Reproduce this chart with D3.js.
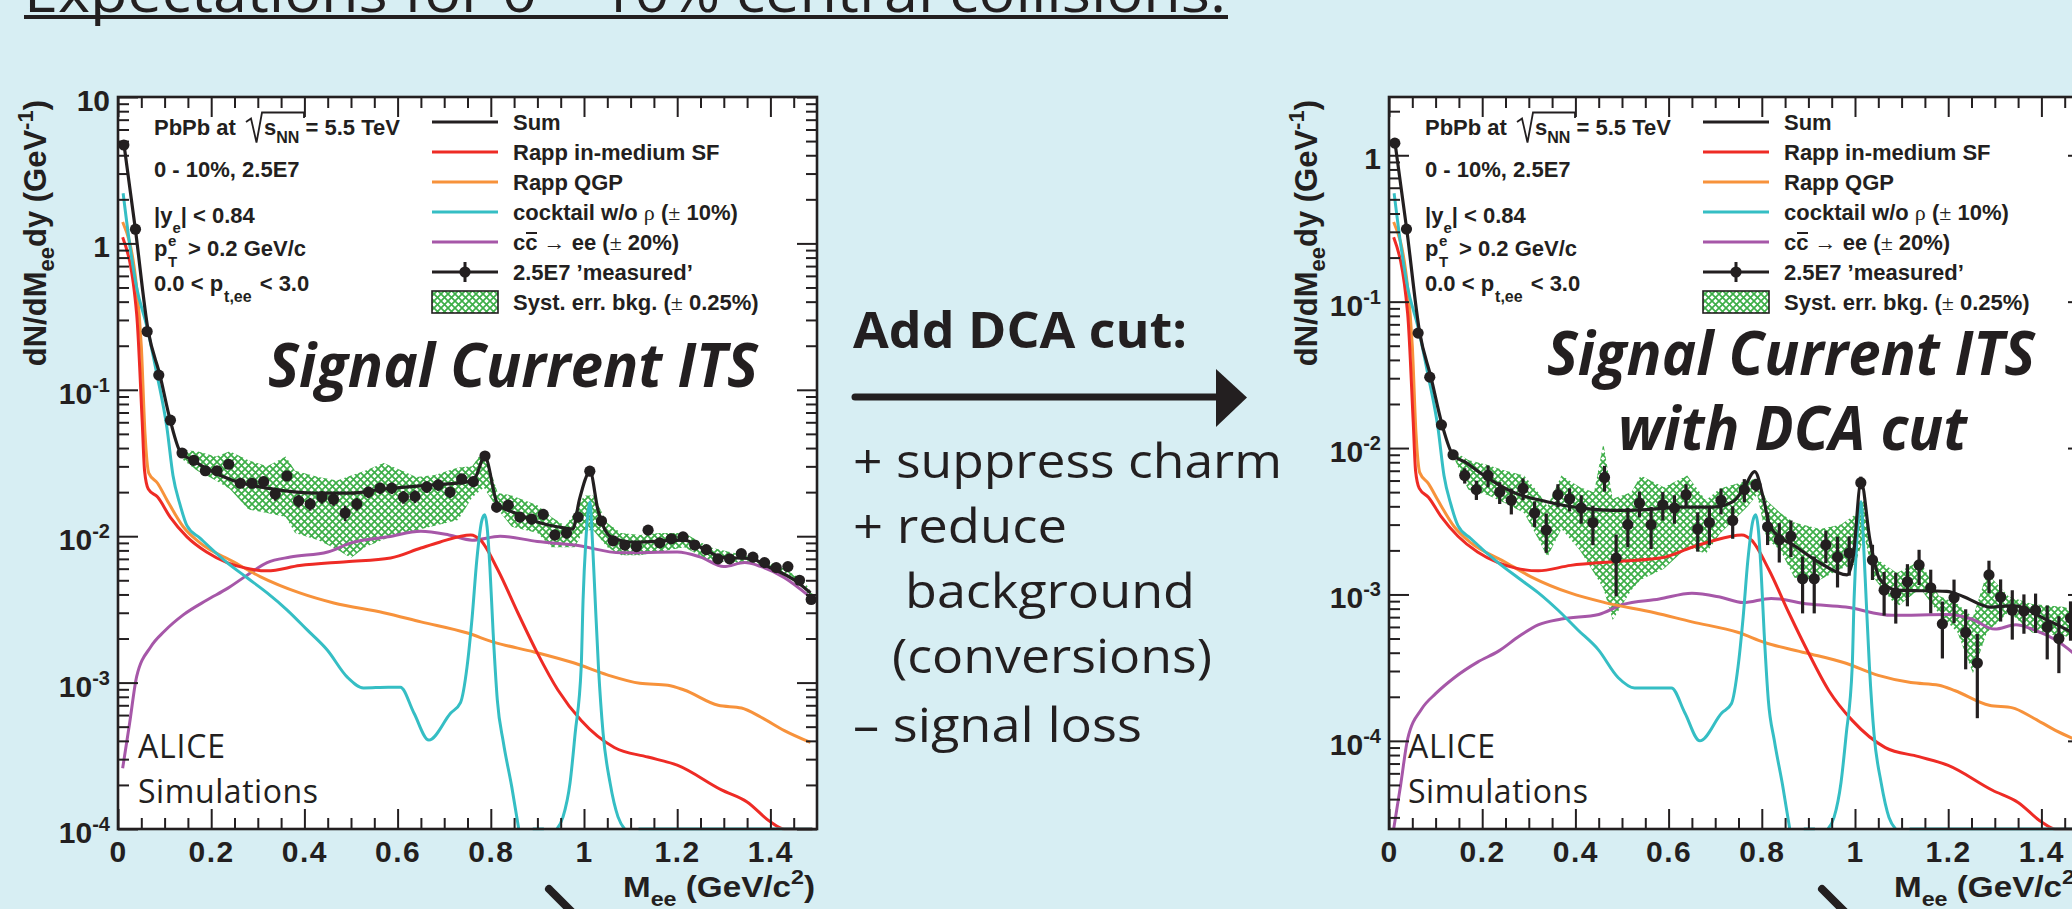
<!DOCTYPE html>
<html>
<head>
<meta charset="utf-8">
<script src="https://cdn.jsdelivr.net/npm/d3@7"></script>
<style>
  html, body { margin: 0; padding: 0; background: #d7eef3; }
  svg { display: block; }
</style>
</head>
<body>
<svg id="fig" width="2072" height="909"></svg>
<script>
// ---------- Data: dielectron invariant-mass spectra, 0-10% central PbPb ----------
// Each model curve is a list of [M_ee (GeV/c^2), dN/dM_ee dy (GeV^-1)] pairs; null = not drawn.

// Left panel: current ITS
const sumL = [[0.013,4.7],[0.037,1.27],[0.065,0.25],[0.09,0.126],[0.112,0.062],[0.135,0.037],[0.161,0.033],[0.19,0.029],[0.247,0.024],[0.32,0.0213],[0.428,0.0197],[0.499,0.0197],[0.57,0.021],[0.677,0.0224],[0.75,0.0235],[0.766,0.025],[0.787,0.035],[0.815,0.0165],[0.858,0.0142],[0.907,0.0123],[0.957,0.0114],[0.976,0.0112],[0.99,0.0177],[1.013,0.0275],[1.03,0.0151],[1.058,0.0099],[1.108,0.0091],[1.215,0.0094],[1.25,0.0084],[1.295,0.0072],[1.36,0.0070],[1.395,0.0062],[1.452,0.0050],[1.486,0.0041]];
const redL = [[0.01,1.1],[0.04,0.33],[0.052,0.06],[0.057,0.028],[0.065,0.021],[0.085,0.0185],[0.112,0.0135],[0.148,0.0099],[0.19,0.0078],[0.234,0.0066],[0.27,0.0061],[0.32,0.0058],[0.39,0.0063],[0.49,0.0067],[0.585,0.0071],[0.65,0.0083],[0.69,0.0091],[0.757,0.0102],[0.778,0.0094],[0.815,0.0059],[0.858,0.0030],[0.90,0.00159],[0.944,0.00089],[0.994,0.00055],[1.065,0.00036],[1.137,0.00031],[1.20,0.000273],[1.295,0.000185],[1.35,0.000153],[1.40,0.000112],[1.43,0.0001],[1.49,0.00008]];
const orangeL = [[0.01,1.4],[0.04,0.50],[0.05,0.2],[0.058,0.05],[0.066,0.027],[0.085,0.023],[0.105,0.0177],[0.14,0.0116],[0.176,0.0090],[0.247,0.0067],[0.305,0.0053],[0.39,0.0041],[0.463,0.0035],[0.57,0.0030],[0.65,0.0026],[0.75,0.00218],[0.806,0.00189],[0.893,0.00162],[0.979,0.00136],[1.05,0.00113],[1.12,0.00099],[1.18,0.00096],[1.215,0.00089],[1.288,0.00070],[1.338,0.00067],[1.38,0.00058],[1.43,0.00047],[1.486,0.00039]];
const cyanL = [[0.011,2.2],[0.026,0.94],[0.04,0.5],[0.062,0.27],[0.083,0.13],[0.105,0.055],[0.118,0.026],[0.133,0.0165],[0.148,0.0118],[0.176,0.0097],[0.234,0.0066],[0.277,0.0052],[0.32,0.0041],[0.363,0.00313],[0.406,0.00229],[0.449,0.00167],[0.492,0.00109],[0.527,0.00092],[0.58,0.00093],[0.606,0.00093],[0.635,0.00062],[0.667,0.000405],[0.714,0.00062],[0.735,0.00073],[0.749,0.00128],[0.76,0.0028],[0.77,0.0069],[0.781,0.0129],[0.787,0.014],[0.792,0.0116],[0.798,0.0062],[0.805,0.0022],[0.814,0.00076],[0.827,0.00039],[0.845,0.000194],[0.86,0.0001],[0.875,null],[0.89,0.00009],[0.914,0.00009],[0.93,null],[0.942,0.0001],[0.955,0.000121],[0.97,0.000206],[0.981,0.00045],[0.994,0.00128],[0.998,0.00367],[1.004,0.0094],[1.013,0.0171],[1.018,0.0094],[1.024,0.00367],[1.031,0.00128],[1.041,0.00045],[1.056,0.000206],[1.073,0.000121],[1.087,0.0001],[1.1,null],[1.117,0.00009],[1.49,0.00009]];
const purpleL = [[0.01,0.00026],[0.025,0.00053],[0.04,0.0011],[0.07,0.00175],[0.1,0.00225],[0.14,0.0029],[0.19,0.00365],[0.235,0.0044],[0.28,0.0055],[0.32,0.0066],[0.37,0.0072],[0.45,0.0078],[0.5,0.0090],[0.58,0.0099],[0.65,0.0108],[0.71,0.0102],[0.76,0.0094],[0.82,0.0100],[0.9,0.0092],[0.98,0.0087],[1.08,0.0077],[1.2,0.0078],[1.25,0.0072],[1.3,0.0062],[1.345,0.0066],[1.38,0.0062],[1.43,0.0052],[1.485,0.00385]];
// [M, lower, upper] of the background systematic band
const bandL = [[0.13,0.035,0.039],[0.17,0.028,0.038],[0.21,0.024,0.035],[0.24,0.021,0.038],[0.28,0.0152,0.033],[0.32,0.0144,0.030],[0.36,0.0135,0.035],[0.38,0.0105,0.028],[0.43,0.0094,0.0254],[0.47,0.0081,0.024],[0.5,0.0071,0.026],[0.53,0.0084,0.028],[0.57,0.0095,0.0316],[0.61,0.0105,0.028],[0.64,0.011,0.0254],[0.68,0.0118,0.0262],[0.73,0.0129,0.0295],[0.76,0.0184,0.030],[0.785,0.0215,0.039],[0.815,0.0152,0.0197],[0.845,0.0116,0.019],[0.9,0.0105,0.0163],[0.93,0.0084,0.0135],[0.96,0.0084,0.0118],[0.98,0.0084,0.0144],[1.0,0.011,0.019],[1.02,0.011,0.019],[1.05,0.0084,0.0123],[1.08,0.0074,0.0105],[1.12,0.0074,0.0102],[1.16,0.0078,0.0105],[1.215,0.0084,0.0105],[1.27,0.0068,0.0084],[1.32,0.0066,0.0077],[1.36,0.0064,0.0072],[1.4,0.006,0.0066],[1.43,0.0056,0.006],[1.47,0.0045,0.005],[1.49,0.0035,0.0041]];

// 'Measured' spectrum: bin centres shared by both panels
const binCentres = [0.0125,0.0375,0.0625,0.0875,0.1125,0.1375,0.1625,0.1875,0.2125,0.2375,0.2625,0.2875,0.3125,0.3375,0.3625,0.3875,0.4125,0.4375,0.4625,0.4875,0.5125,0.5375,0.5625,0.5875,0.6125,0.6375,0.6625,0.6875,0.7125,0.7375,0.7625,0.7875,0.8125,0.8375,0.8625,0.8875,0.9125,0.9375,0.9625,0.9875,1.0125,1.0375,1.0625,1.0875,1.1125,1.1375,1.1625,1.1875,1.2125,1.2375,1.2625,1.2875,1.3125,1.3375,1.3625,1.3875,1.4125,1.4375,1.4625,1.4875];
const measuredL = [4.7,1.25,0.25,0.126,0.062,0.037,0.033,0.028,0.028,0.031,0.023,0.023,0.0236,0.0194,0.0258,0.0174,0.0166,0.0185,0.0179,0.0144,0.0166,0.020,0.0213,0.0213,0.0185,0.0187,0.0217,0.0224,0.0200,0.0246,0.0236,0.0353,0.0158,0.0163,0.0135,0.0131,0.0141,0.0102,0.0105,0.0135,0.0278,0.0127,0.0093,0.0087,0.0085,0.0110,0.0090,0.0096,0.0099,0.0087,0.0081,0.0070,0.0070,0.0076,0.0072,0.0066,0.0061,0.0062,0.0050,0.0037];
const relErrL = [0.005,0.01,0.02,0.03,0.03,0.04,0.05,0.05,0.05,0.06,0.07,0.08,0.08,0.1,0.08,0.1,0.1,0.1,0.1,0.12,0.1,0.09,0.09,0.09,0.1,0.1,0.09,0.09,0.09,0.08,0.08,0.04,0.08,0.08,0.08,0.08,0.08,0.08,0.08,0.07,0.04,0.07,0.07,0.07,0.07,0.06,0.06,0.06,0.06,0.06,0.06,0.06,0.06,0.06,0.06,0.06,0.06,0.06,0.06,0.06];

// Right panel: current ITS with DCA cut
const sumR = [[0.013,1.21],[0.038,0.313],[0.066,0.061],[0.09,0.0305],[0.114,0.0144],[0.137,0.009],[0.167,0.0079],[0.195,0.0068],[0.266,0.0050],[0.339,0.0043],[0.41,0.0039],[0.48,0.00375],[0.553,0.0038],[0.624,0.00395],[0.696,0.00395],[0.738,0.0043],[0.76,0.0052],[0.785,0.0069],[0.803,0.0046],[0.818,0.0029],[0.875,0.0021],[0.925,0.00164],[0.983,0.00136],[0.996,0.0018],[1.013,0.0059],[1.032,0.00236],[1.054,0.00126],[1.09,0.00107],[1.197,0.00105],[1.232,0.00097],[1.29,0.00082],[1.34,0.00084],[1.412,0.00067],[1.466,0.00055],[1.49,0.0005]];
const redR = [[0.01,0.275],[0.04,0.083],[0.052,0.015],[0.057,0.007],[0.065,0.0053],[0.085,0.0046],[0.112,0.0034],[0.148,0.0025],[0.19,0.00195],[0.234,0.00165],[0.27,0.00152],[0.32,0.00145],[0.39,0.00158],[0.49,0.00168],[0.585,0.00178],[0.65,0.0021],[0.69,0.0023],[0.757,0.00255],[0.778,0.00235],[0.815,0.00148],[0.858,0.00075],[0.90,0.0004],[0.944,0.00022],[0.994,0.000138],[1.065,0.00009],[1.137,0.000078],[1.20,0.000068],[1.295,0.000046],[1.35,0.000038],[1.40,0.000028],[1.43,0.000025],[1.49,0.00002]];
const orangeR = [[0.01,0.35],[0.04,0.125],[0.05,0.05],[0.058,0.0125],[0.066,0.0068],[0.085,0.0057],[0.105,0.0044],[0.14,0.0029],[0.176,0.00225],[0.247,0.00168],[0.305,0.00132],[0.39,0.00102],[0.463,0.00088],[0.57,0.00075],[0.65,0.00065],[0.75,0.00055],[0.806,0.00047],[0.893,0.0004],[0.979,0.00034],[1.05,0.00028],[1.12,0.00025],[1.18,0.00024],[1.215,0.00022],[1.288,0.000175],[1.338,0.000168],[1.38,0.000145],[1.43,0.000118],[1.486,0.000098]];
const cyanR = [[0.011,0.55],[0.026,0.235],[0.04,0.125],[0.062,0.0675],[0.083,0.0325],[0.105,0.0138],[0.118,0.0065],[0.133,0.0041],[0.148,0.00295],[0.176,0.0024],[0.234,0.00165],[0.277,0.0013],[0.32,0.00103],[0.363,0.00078],[0.406,0.00057],[0.449,0.00042],[0.492,0.00027],[0.527,0.00023],[0.58,0.00023],[0.606,0.00023],[0.635,0.000155],[0.667,0.0001],[0.714,0.000155],[0.735,0.00018],[0.749,0.00032],[0.76,0.0007],[0.77,0.0017],[0.781,0.0032],[0.787,0.0035],[0.792,0.0029],[0.798,0.00155],[0.805,0.00055],[0.814,0.00019],[0.827,0.0001],[0.845,0.000049],[0.86,0.000025],[0.875,null],[0.89,0.0000225],[0.914,0.0000225],[0.93,null],[0.942,0.000025],[0.955,0.00003],[0.97,0.000052],[0.981,0.00011],[0.994,0.00032],[0.998,0.00092],[1.004,0.00235],[1.013,0.0043],[1.018,0.00235],[1.024,0.00092],[1.031,0.00032],[1.041,0.00011],[1.056,0.000052],[1.073,0.00003],[1.087,0.000025],[1.1,null],[1.117,0.0000225],[1.49,0.0000225]];
const purpleR = [[0.01,0.000024],[0.025,0.00005],[0.04,0.000103],[0.07,0.000165],[0.1,0.00021],[0.14,0.00027],[0.19,0.000345],[0.235,0.00041],[0.28,0.00052],[0.32,0.00062],[0.37,0.00068],[0.45,0.00073],[0.5,0.00085],[0.58,0.00093],[0.65,0.00102],[0.71,0.00096],[0.76,0.00088],[0.82,0.00094],[0.9,0.00086],[0.98,0.00082],[1.08,0.00072],[1.2,0.00073],[1.25,0.00068],[1.3,0.00058],[1.345,0.00062],[1.38,0.00058],[1.43,0.00049],[1.485,0.00036]];
const bandR = [[0.14,0.0085,0.0095],[0.17,0.0052,0.0083],[0.21,0.0048,0.0077],[0.25,0.0042,0.0070],[0.29,0.0036,0.0065],[0.32,0.0024,0.0050],[0.34,0.0018,0.0040],[0.37,0.0028,0.0065],[0.41,0.0020,0.0054],[0.44,0.0014,0.0050],[0.46,0.0011,0.0108],[0.48,0.00067,0.0045],[0.52,0.00107,0.0050],[0.54,0.00126,0.0065],[0.59,0.0015,0.0054],[0.64,0.0021,0.0065],[0.68,0.0019,0.0044],[0.71,0.0026,0.0053],[0.77,0.0040,0.0060],[0.79,0.0048,0.0062],[0.81,0.0024,0.0044],[0.84,0.0020,0.0036],[0.87,0.0013,0.0031],[0.925,0.00126,0.0028],[0.97,0.0015,0.0030],[1.0,0.0016,0.0035],[1.02,0.0025,0.0045],[1.04,0.0013,0.0018],[1.09,0.00082,0.0014],[1.14,0.0011,0.0017],[1.18,0.00074,0.00098],[1.22,0.00055,0.00086],[1.253,0.00029,0.0007],[1.283,0.00055,0.0014],[1.33,0.00076,0.00097],[1.38,0.00055,0.00086],[1.45,0.00052,0.00082],[1.5,0.00045,0.0007]];
const measuredR = [1.21,0.313,0.061,0.0305,0.0144,0.009,0.0065,0.0052,0.0065,0.0050,0.0044,0.0053,0.0036,0.00275,0.0048,0.0045,0.0039,0.0031,0.0063,0.00177,0.0030,0.0042,0.0030,0.0041,0.0039,0.0048,0.0028,0.0031,0.0044,0.0032,0.0052,0.0056,0.0029,0.00236,0.0025,0.00128,0.00128,0.00218,0.0018,0.00192,0.0058,0.00172,0.00107,0.00102,0.00122,0.00159,0.00111,0.00063,0.00095,0.00055,0.00034,0.00136,0.00096,0.00078,0.00077,0.00078,0.0006,0.0005,0.00069,0.00045];
const relErrR = [0.01,0.02,0.03,0.04,0.06,0.08,0.12,0.15,0.17,0.17,0.2,0.17,0.2,0.3,0.18,0.18,0.22,0.3,0.2,0.45,0.3,0.2,0.32,0.22,0.22,0.18,0.3,0.3,0.2,0.25,0.18,0.1,0.25,0.3,0.28,0.42,0.42,0.25,0.38,0.3,0.1,0.27,0.33,0.38,0.32,0.27,0.33,0.42,0.33,0.44,0.58,0.25,0.32,0.37,0.3,0.3,0.4,0.42,0.3,0.35];

// Axis ticks
const xMajorTicks = [0, 0.2, 0.4, 0.6, 0.8, 1.0, 1.2, 1.4];
const xTickLabels = ['0', '0.2', '0.4', '0.6', '0.8', '1', '1.2', '1.4'];
const yDecadesL = [1, 0, -1, -2, -3, -4];
const yDecadesR = [0, -1, -2, -3, -4];

// Legend
const legendLabels = ['Sum', 'Rapp in-medium SF', 'Rapp QGP', 'cocktail w/o ρ (± 10%)', 'cc → ee (± 20%)', '2.5E7 ’measured’', 'Syst. err. bkg. (± 0.25%)'];

// ---------- Styling ----------
const INK = '#231f20';
const HELV = "'Liberation Sans', Arial, Helvetica, sans-serif";
const MYR = "'Open Sans', 'Noto Sans', sans-serif";
const COL = { red: '#ee2b25', orange: '#f7923b', cyan: '#35bec4', purple: '#a657a8', green: '#3dae48' };

const svg = d3.select('#fig');
svg.append('rect').attr('width', 2072).attr('height', 909).attr('fill', '#d7eef3');
const defs = svg.append('defs');
const pat = defs.append('pattern').attr('id', 'hatch').attr('patternUnits', 'userSpaceOnUse')
  .attr('width', 7).attr('height', 7);
pat.append('path').attr('d', 'M-1,-1L8,8M8,-1L-1,8').attr('stroke', COL.green).attr('stroke-width', 1.7);

// ---------- Panels ----------
const FRAME_TOP = 97, FRAME_BOT = 829, FRAME_W = 699;
const panels = [
  { id: 'L', x0: 118, yDomain: [1e-4, 10], decades: yDecadesL, sum: sumL, red: redL, orange: orangeL, cyan: cyanL, purple: purpleL, band: bandL, meas: measuredL, err: relErrL, errW: 2.5 },
  { id: 'R', x0: 1389, yDomain: [2.5e-5, 2.5], decades: yDecadesR, sum: sumR, red: redR, orange: orangeR, cyan: cyanR, purple: purpleR, band: bandR, meas: measuredR, err: relErrR, errW: 3.2 }
];

function styleAxis(sel) {
  sel.select('.domain').remove();
  sel.selectAll('.tick line').attr('stroke', INK).attr('stroke-width', 2);
}

function drawPanel(p) {
  const x0 = p.x0, x1 = p.x0 + FRAME_W;
  const xs = d3.scaleLinear().domain([0, 1.5]).range([x0, x1]);
  const ys = d3.scaleLog().domain(p.yDomain).range([FRAME_BOT, FRAME_TOP]);
  const floor = p.yDomain[0];
  const yv = v => ys(Math.max(v, floor));
  const g = svg.append('g');

  g.append('rect').attr('x', x0).attr('y', FRAME_TOP).attr('width', FRAME_W).attr('height', FRAME_BOT - FRAME_TOP).attr('fill', '#fff');

  defs.append('clipPath').attr('id', 'clip' + p.id).append('rect')
    .attr('x', x0).attr('y', FRAME_TOP).attr('width', FRAME_W).attr('height', FRAME_BOT - FRAME_TOP + 1.5);
  const plot = g.append('g').attr('clip-path', `url(#clip${p.id})`);

  // systematic band
  plot.append('path').datum(p.band)
    .attr('d', d3.area().x(d => xs(d[0])).y0(d => yv(d[1])).y1(d => yv(d[2])))
    .attr('fill', 'url(#hatch)');

  const line = d3.line().defined(d => d[1] !== null)
    .x(d => xs(d[0])).y(d => yv(d[1])).curve(d3.curveMonotoneX);
  [[p.purple, COL.purple], [p.orange, COL.orange], [p.red, COL.red], [p.cyan, COL.cyan]].forEach(([data, c]) => {
    plot.append('path').datum(data).attr('d', line).attr('fill', 'none')
      .attr('stroke', c).attr('stroke-width', 3).attr('stroke-linejoin', 'round');
  });
  plot.append('path').datum(p.sum).attr('d', line).attr('fill', 'none')
    .attr('stroke', INK).attr('stroke-width', 3.2).attr('stroke-linejoin', 'round');

  // measured points with statistical errors
  const pts = plot.append('g');
  binCentres.forEach((m, i) => {
    const v = p.meas[i], e = v * p.err[i];
    pts.append('line').attr('x1', xs(m)).attr('x2', xs(m))
      .attr('y1', yv(Math.max(v - e, floor))).attr('y2', yv(v + e))
      .attr('stroke', INK).attr('stroke-width', p.errW);
    pts.append('circle').attr('cx', xs(m)).attr('cy', yv(v)).attr('r', 5.6).attr('fill', INK);
  });

  // axes (ticks inside the frame on all four sides)
  const xMinor = d3.range(1, 30).map(i => i * 0.05).filter(v => Math.abs(v / 0.2 - Math.round(v / 0.2)) > 1e-6);
  g.append('g').attr('transform', `translate(0,${FRAME_BOT})`)
    .call(d3.axisBottom(xs).tickValues(xMinor).tickSize(-11).tickFormat('')).call(styleAxis);
  g.append('g').attr('transform', `translate(0,${FRAME_TOP})`)
    .call(d3.axisTop(xs).tickValues(xMinor).tickSize(-11).tickFormat('')).call(styleAxis);
  g.append('g').attr('transform', `translate(0,${FRAME_TOP})`)
    .call(d3.axisTop(xs).tickValues(xMajorTicks).tickSize(-20).tickFormat('')).call(styleAxis);
  const xb = g.append('g').attr('transform', `translate(0,${FRAME_BOT})`)
    .call(d3.axisBottom(xs).tickValues(xMajorTicks).tickSize(-20).tickPadding(12)
      .tickFormat((d, i) => xTickLabels[i]))
    .call(styleAxis);
  xb.attr('font-family', HELV).attr('font-size', 30).attr('font-weight', 'bold').attr('color', INK);
  xb.selectAll('text').attr('letter-spacing', 1.5);

  const majors = p.decades.map(e => Math.pow(10, e));
  const minors = [];
  for (let e = -6; e <= 1; e++) for (let k = 2; k <= 9; k++) {
    const v = k * Math.pow(10, e);
    if (v >= p.yDomain[0] && v <= p.yDomain[1]) minors.push(v);
  }
  g.append('g').attr('transform', `translate(${x0},0)`)
    .call(d3.axisLeft(ys).tickValues(majors).tickSize(-20).tickFormat('')).call(styleAxis);
  g.append('g').attr('transform', `translate(${x0},0)`)
    .call(d3.axisLeft(ys).tickValues(minors).tickSize(-11).tickFormat('')).call(styleAxis);
  g.append('g').attr('transform', `translate(${x1},0)`)
    .call(d3.axisRight(ys).tickValues(majors).tickSize(-20).tickFormat('')).call(styleAxis);
  g.append('g').attr('transform', `translate(${x1},0)`)
    .call(d3.axisRight(ys).tickValues(minors).tickSize(-11).tickFormat('')).call(styleAxis);

  // y tick labels: 10, 1, 10^-k
  p.decades.forEach(e => {
    const t = g.append('text').attr('x', x0 - 8).attr('y', ys(Math.pow(10, e)) + 14)
      .attr('text-anchor', 'end').attr('font-family', HELV).attr('font-weight', 'bold')
      .attr('font-size', 30).attr('fill', INK);
    if (e === 0) t.text('1');
    else if (e === 1) t.text('10');
    else {
      t.append('tspan').text('10');
      t.append('tspan').attr('font-size', 20).attr('dy', -12).text(String(e));
    }
  });

  // frame
  g.append('rect').attr('x', x0).attr('y', FRAME_TOP).attr('width', FRAME_W).attr('height', FRAME_BOT - FRAME_TOP)
    .attr('fill', 'none').attr('stroke', INK).attr('stroke-width', 2.6);

  // axis titles
  const yt = g.append('text').attr('transform', `translate(${x0 - 72},100) rotate(-90)`)
    .attr('text-anchor', 'end').attr('font-family', HELV).attr('font-weight', 'bold')
    .attr('font-size', 31).attr('fill', INK);
  yt.append('tspan').text('dN/dM');
  yt.append('tspan').attr('font-size', 22).attr('dy', 8).text('ee');
  yt.append('tspan').attr('dy', -8).text('dy (GeV');
  yt.append('tspan').attr('font-size', 22).attr('dy', -13).text('-1');
  yt.append('tspan').attr('dy', 13).text(')');

  const xt = g.append('text').attr('x', x0 + 505).attr('y', 897)
    .attr('textLength', 192).attr('lengthAdjust', 'spacingAndGlyphs')
    .attr('font-family', HELV).attr('font-weight', 'bold')
    .attr('font-size', 30).attr('fill', INK);
  xt.append('tspan').text('M');
  xt.append('tspan').attr('font-size', 21).attr('dy', 9).text('ee');
  xt.append('tspan').attr('dy', -9).text(' (GeV/c');
  xt.append('tspan').attr('font-size', 21).attr('dy', -13).text('2');
  xt.append('tspan').attr('dy', 13).text(')');

  return { xs, ys };
}

// ---------- Annotation block inside each panel (shifted horizontally) ----------
function annotate(dx) {
  const g = svg.append('g').attr('transform', `translate(${dx},0)`)
    .attr('font-family', HELV).attr('font-weight', 'bold').attr('fill', INK).attr('font-size', 22);

  // PbPb at sqrt(s_NN) = 5.5 TeV
  g.append('text').attr('x', 154).attr('y', 135).text('PbPb at');
  g.append('path').attr('d', 'M246,122 L251,118.5 L256.5,142.5 L262,112.5 L304,112.5 L304,118')
    .attr('fill', 'none').attr('stroke', INK).attr('stroke-width', 1.8);
  const s = g.append('text').attr('x', 264).attr('y', 135);
  s.append('tspan').text('s');
  s.append('tspan').attr('font-size', 16).attr('dy', 8).text('NN');
  s.append('tspan').attr('dy', -8).text(' = 5.5 TeV');

  g.append('text').attr('x', 154).attr('y', 177).text('0 - 10%, 2.5E7');

  const y1 = g.append('text').attr('x', 154).attr('y', 223);
  y1.append('tspan').text('|y');
  y1.append('tspan').attr('font-size', 15).attr('dy', 10).text('e');
  y1.append('tspan').attr('dy', -10).text('| < 0.84');

  g.append('text').attr('x', 168).attr('y', 246).attr('font-size', 15).text('e');
  g.append('text').attr('x', 154).attr('y', 256).text('p');
  g.append('text').attr('x', 168).attr('y', 267).attr('font-size', 15).text('T');
  g.append('text').attr('x', 188).attr('y', 256).text('> 0.2 GeV/c');

  const pt = g.append('text').attr('x', 154).attr('y', 291);
  pt.append('tspan').text('0.0 < p');
  pt.append('tspan').attr('font-size', 16).attr('dy', 11).attr('dx', 1).text('t,ee');
  pt.append('tspan').attr('dy', -11).attr('dx', 8).text('< 3.0');

  // legend
  const lx0 = 432, lx1 = 498, tx = 513;
  const rows = [122, 152, 182, 212, 242, 272, 302];
  const lineCols = [INK, COL.red, COL.orange, COL.cyan, COL.purple];
  lineCols.forEach((c, i) => {
    g.append('line').attr('x1', lx0).attr('x2', lx1).attr('y1', rows[i]).attr('y2', rows[i])
      .attr('stroke', c).attr('stroke-width', 3.2);
  });
  g.append('line').attr('x1', lx0).attr('x2', lx1).attr('y1', rows[5]).attr('y2', rows[5])
    .attr('stroke', INK).attr('stroke-width', 3.2);
  g.append('line').attr('x1', 465).attr('x2', 465).attr('y1', rows[5] - 10).attr('y2', rows[5] + 10)
    .attr('stroke', INK).attr('stroke-width', 3);
  g.append('circle').attr('cx', 465).attr('cy', rows[5]).attr('r', 5.6).attr('fill', INK);
  g.append('rect').attr('x', lx0).attr('y', 291).attr('width', lx1 - lx0).attr('height', 22)
    .attr('fill', 'url(#hatch)').attr('stroke', INK).attr('stroke-width', 1.6);

  const sym = t => t.attr('font-family', "'Liberation Serif', 'Times New Roman', serif").attr('font-weight', 'normal');
  legendLabels.forEach((lab, i) => {
    const t = g.append('text').attr('x', tx).attr('y', rows[i] + 8);
    if (i === 3) {
      t.append('tspan').text('cocktail w/o ');
      t.append('tspan').call(sym).text('ρ');
      t.append('tspan').text(' (');
      t.append('tspan').call(sym).text('±');
      t.append('tspan').text(' 10%)');
    } else if (i === 4) {
      t.append('tspan').text('cc ');
      t.append('tspan').call(sym).text('→');
      t.append('tspan').text(' ee (');
      t.append('tspan').call(sym).text('±');
      t.append('tspan').text(' 20%)');
    } else if (i === 6) {
      t.append('tspan').text('Syst. err. bkg. (');
      t.append('tspan').call(sym).text('±');
      t.append('tspan').text(' 0.25%)');
    } else {
      t.text(lab);
    }
  });
  // bar over the second c of c c-bar
  g.append('line').attr('x1', 526).attr('x2', 537).attr('y1', rows[4] - 9).attr('y2', rows[4] - 9)
    .attr('stroke', INK).attr('stroke-width', 2);

  // simulation tag
  const a = g.append('g').attr('font-family', MYR).attr('font-weight', 'normal').attr('font-size', 32);
  a.append('text').attr('x', 138 + (dx ? -1 : 0)).attr('y', 758).attr('textLength', 87).text('ALICE');
  a.append('text').attr('x', 138 + (dx ? -1 : 0)).attr('y', 803).attr('textLength', 180).text('Simulations');
}

drawPanel(panels[0]);
drawPanel(panels[1]);
annotate(0);
annotate(1271);

// Big panel headlines
const head = svg.append('g').attr('font-family', MYR).attr('font-weight', 'bold')
  .attr('font-style', 'italic').attr('font-size', 60).attr('fill', INK);
head.append('text').attr('x', 268).attr('y', 387).attr('textLength', 490).attr('lengthAdjust', 'spacingAndGlyphs').text('Signal Current ITS');
head.append('text').attr('x', 1547).attr('y', 375).attr('textLength', 488).attr('lengthAdjust', 'spacingAndGlyphs').text('Signal Current ITS');
head.append('text').attr('x', 1618).attr('y', 450).attr('textLength', 349).attr('lengthAdjust', 'spacingAndGlyphs').text('with DCA cut');

// ---------- Slide text between the panels ----------
const slide = svg.append('g').attr('font-family', MYR).attr('fill', INK);
slide.append('text').attr('x', 24).attr('y', 12).attr('font-size', 56)
  .attr('textLength', 1202).attr('lengthAdjust', 'spacingAndGlyphs')
  .text('Expectations for 0 – 10% central collisions:');
slide.append('rect').attr('x', 24).attr('y', 15).attr('width', 1204).attr('height', 4).attr('fill', INK);

slide.append('text').attr('x', 853).attr('y', 348).attr('font-size', 51).attr('font-weight', 'bold')
  .attr('textLength', 334).attr('lengthAdjust', 'spacingAndGlyphs').text('Add DCA cut:');
svg.append('line').attr('x1', 855).attr('x2', 1220).attr('y1', 397).attr('y2', 397)
  .attr('stroke', INK).attr('stroke-width', 7).attr('stroke-linecap', 'round');
svg.append('path').attr('d', 'M1216,369 L1247,397.5 L1216,427 Z').attr('fill', INK);

const bullets = [
  ['+ suppress charm', 853, 478, 429],
  ['+ reduce', 853, 543, 214],
  ['background', 905, 608, 290],
  ['(conversions)', 892, 673, 320],
  ['– signal loss', 853, 742, 289]
];
bullets.forEach(([t, x, y, w]) => {
  slide.append('text').attr('x', x).attr('y', y).attr('font-size', 48)
    .attr('textLength', w).attr('lengthAdjust', 'spacingAndGlyphs').text(t);
});

// pointer strokes entering from below
svg.append('line').attr('x1', 549).attr('y1', 889).attr('x2', 574).attr('y2', 914)
  .attr('stroke', INK).attr('stroke-width', 8).attr('stroke-linecap', 'round');
svg.append('line').attr('x1', 1822).attr('y1', 889).attr('x2', 1847).attr('y2', 914)
  .attr('stroke', INK).attr('stroke-width', 8).attr('stroke-linecap', 'round');
</script>
</body>
</html>
